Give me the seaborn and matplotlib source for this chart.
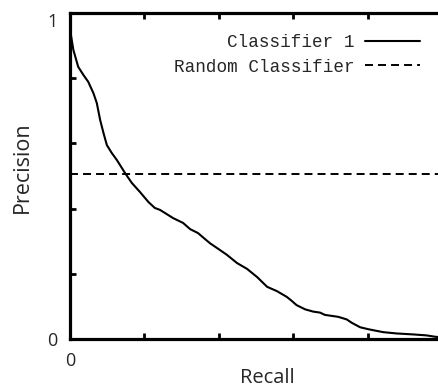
import matplotlib
matplotlib.use("Agg")
import matplotlib.pyplot as plt
import seaborn as sns
import pandas as pd

recall = [0.0, 0.009, 0.022, 0.036, 0.049, 0.063, 0.072, 0.081, 0.09, 0.099,
          0.112, 0.126, 0.148, 0.166, 0.188, 0.211, 0.228, 0.242, 0.277, 0.304,
          0.323, 0.344, 0.376, 0.403, 0.422, 0.449, 0.476, 0.503, 0.53, 0.556,
          0.583, 0.596, 0.609, 0.632, 0.654, 0.672, 0.685, 0.721, 0.744, 0.757,
          0.78, 0.802, 0.824, 0.842, 0.878, 0.923, 0.959, 0.981, 1.0]
precision = [0.95, 0.887, 0.835, 0.81, 0.789, 0.754, 0.724, 0.672, 0.632, 0.595,
             0.571, 0.549, 0.509, 0.479, 0.451, 0.42, 0.402, 0.396, 0.371, 0.356,
             0.337, 0.325, 0.294, 0.273, 0.258, 0.233, 0.215, 0.19, 0.16, 0.147,
             0.129, 0.117, 0.104, 0.091, 0.084, 0.081, 0.074, 0.068, 0.06, 0.05,
             0.036, 0.03, 0.025, 0.021, 0.017, 0.014, 0.011, 0.007, 0.005]
random_recall = [0.0, 1.0]
random_precision = [0.507, 0.507]
labels = ["Classifier 1", "Random Classifier"]

sns.set_style("ticks")
plt.rcParams["font.family"] = ["Open Sans", "DejaVu Sans"]

fig = plt.figure(figsize=(4.38, 3.90), dpi=100)
ax = fig.add_axes([70/438, 51/390, 372/438, 326/390])

df1 = pd.DataFrame({"Recall": recall, "Precision": precision})
df2 = pd.DataFrame({"Recall": random_recall, "Precision": random_precision})
sns.lineplot(data=df1, x="Recall", y="Precision", ax=ax, color="black", lw=1.5,
             label=labels[0], sort=False)
sns.lineplot(data=df2, x="Recall", y="Precision", ax=ax, color="black", lw=1.4,
             linestyle=(0, (4.1, 2.6)), label=labels[1])

ax.set_xlim(0, 1)
ax.set_ylim(0, 1)
ax.set_xticks([0, 1])
ax.set_yticks([0, 1])
ax.set_xticklabels(["0", "1"])
ax.set_yticklabels(["0", "1"])
ax.set_xticks([0.2, 0.4, 0.6, 0.8], minor=True)
ax.set_yticks([0.2, 0.4, 0.6, 0.8], minor=True)
ax.tick_params(which="both", direction="in", top=True, right=False, width=2, color="black")
ax.tick_params(which="major", length=0, labelsize=13, pad=9)
ax.tick_params(which="minor", length=4)
ax.get_yticklabels()[-1].set_va("top")

for s in ax.spines.values():
    s.set_linewidth(2.3)
    s.set_color("black")
ax.spines["right"].set_visible(False)

ax.set_xlabel("Recall", fontsize=14.5)
ax.set_ylabel("Precision", fontsize=15.5)
ax.xaxis.set_label_coords(0.53, -0.088)
ax.yaxis.set_label_coords(-0.1, 0.528)

leg = ax.legend(loc="upper right", bbox_to_anchor=(0.941, 0.935), frameon=False,
                markerfirst=False, prop={"family": "Liberation Mono", "size": 12.7},
                handlelength=3.1, handletextpad=0.62, labelspacing=0.42,
                borderpad=0, borderaxespad=0)

fig.savefig("out.png", dpi=100)
